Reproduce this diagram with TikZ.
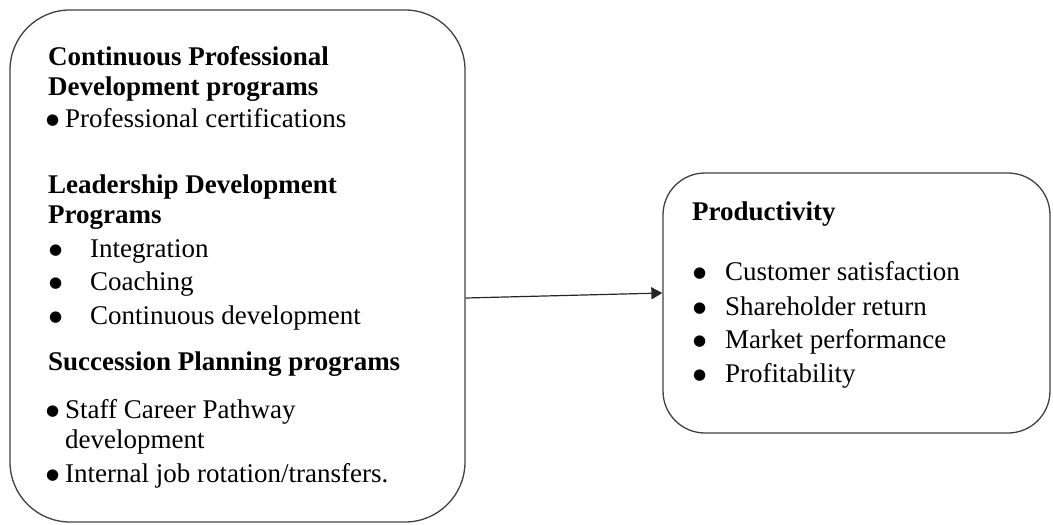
\documentclass[tikz,border=0pt]{standalone}
\usepackage{fontspec}
\setmainfont{Liberation Serif}
\newfontfamily\symfont{DejaVu Sans}
\usetikzlibrary{arrows.meta,calc}
\newcommand{\bigdot}{\raisebox{2.8pt}{\symfont\fontsize{15}{17}\selectfont ●}}
\begin{document}
\begin{tikzpicture}[x=1pt,y=-1pt,
  roundbox/.style={draw=black!75, line width=1.3pt, rounded corners=#1, inner sep=0pt},
  txt/.style={anchor=base west, inner sep=0pt, font=\fontsize{27}{30}\selectfont},
  head/.style={anchor=base west, inner sep=0pt, font=\fontsize{27}{30}\selectfont\bfseries},
  link/.style={draw=black!85, line width=1.2pt, -{Triangle[length=11pt,width=12pt]}}]
\useasboundingbox (0,0) rectangle (1053,525);

% the two frames
\node[roundbox=60pt, minimum width=455pt, minimum height=512pt] (lbox) at (237.5,266) {};
\node[roundbox=42pt, minimum width=387pt, minimum height=260pt] (rbox) at (856.5,303) {};

% left frame: programmes
\node[head] (h1a) at (48,65) {Continuous Professional};
\node[head] (h1b) at (48,95) {Development programs};
\node[txt] (p1b) at (46,127) {\bigdot};
\node[txt] (p1) at (65,127) {Professional certifications};

\node[head] (h2a) at (48,193) {Leadership Development};
\node[head] (h2b) at (48,223) {Programs};
\node[txt] (l1b) at (49,257) {\bigdot};
\node[txt] (l1) at (90,257) {Integration};
\node[txt] (l2b) at (49,290) {\bigdot};
\node[txt] (l2) at (90,290) {Coaching};
\node[txt] (l3b) at (49,324) {\bigdot};
\node[txt] (l3) at (90,324) {Continuous development};

\node[head] (h3) at (48,370) {Succession Planning programs};
\node[txt] (s1b) at (46,418) {\bigdot};
\node[txt] (s1) at (65,418) {Staff Career Pathway};
\node[txt] (s1c) at (65,448) {development};
\node[txt] (s2b) at (46,482) {\bigdot};
\node[txt] (s2) at (65,482) {Internal job rotation/transfers.};

% right frame: outcomes
\node[head] (hp) at (692,220) {Productivity};
\node[txt] (r1b) at (693,280) {\bigdot};
\node[txt] (r1) at (725,280) {Customer satisfaction};
\node[txt] (r2b) at (693,315) {\bigdot};
\node[txt] (r2) at (725,315) {Shareholder return};
\node[txt] (r3b) at (693,348) {\bigdot};
\node[txt] (r3) at (725,348) {Market performance};
\node[txt] (r4b) at (693,382) {\bigdot};
\node[txt] (r4) at (725,382) {Profitability};

% connector
\draw[link] ($(lbox.east)+(0,32)$) -- ($(rbox.west)+(0,-10)$);
\end{tikzpicture}
\end{document}
